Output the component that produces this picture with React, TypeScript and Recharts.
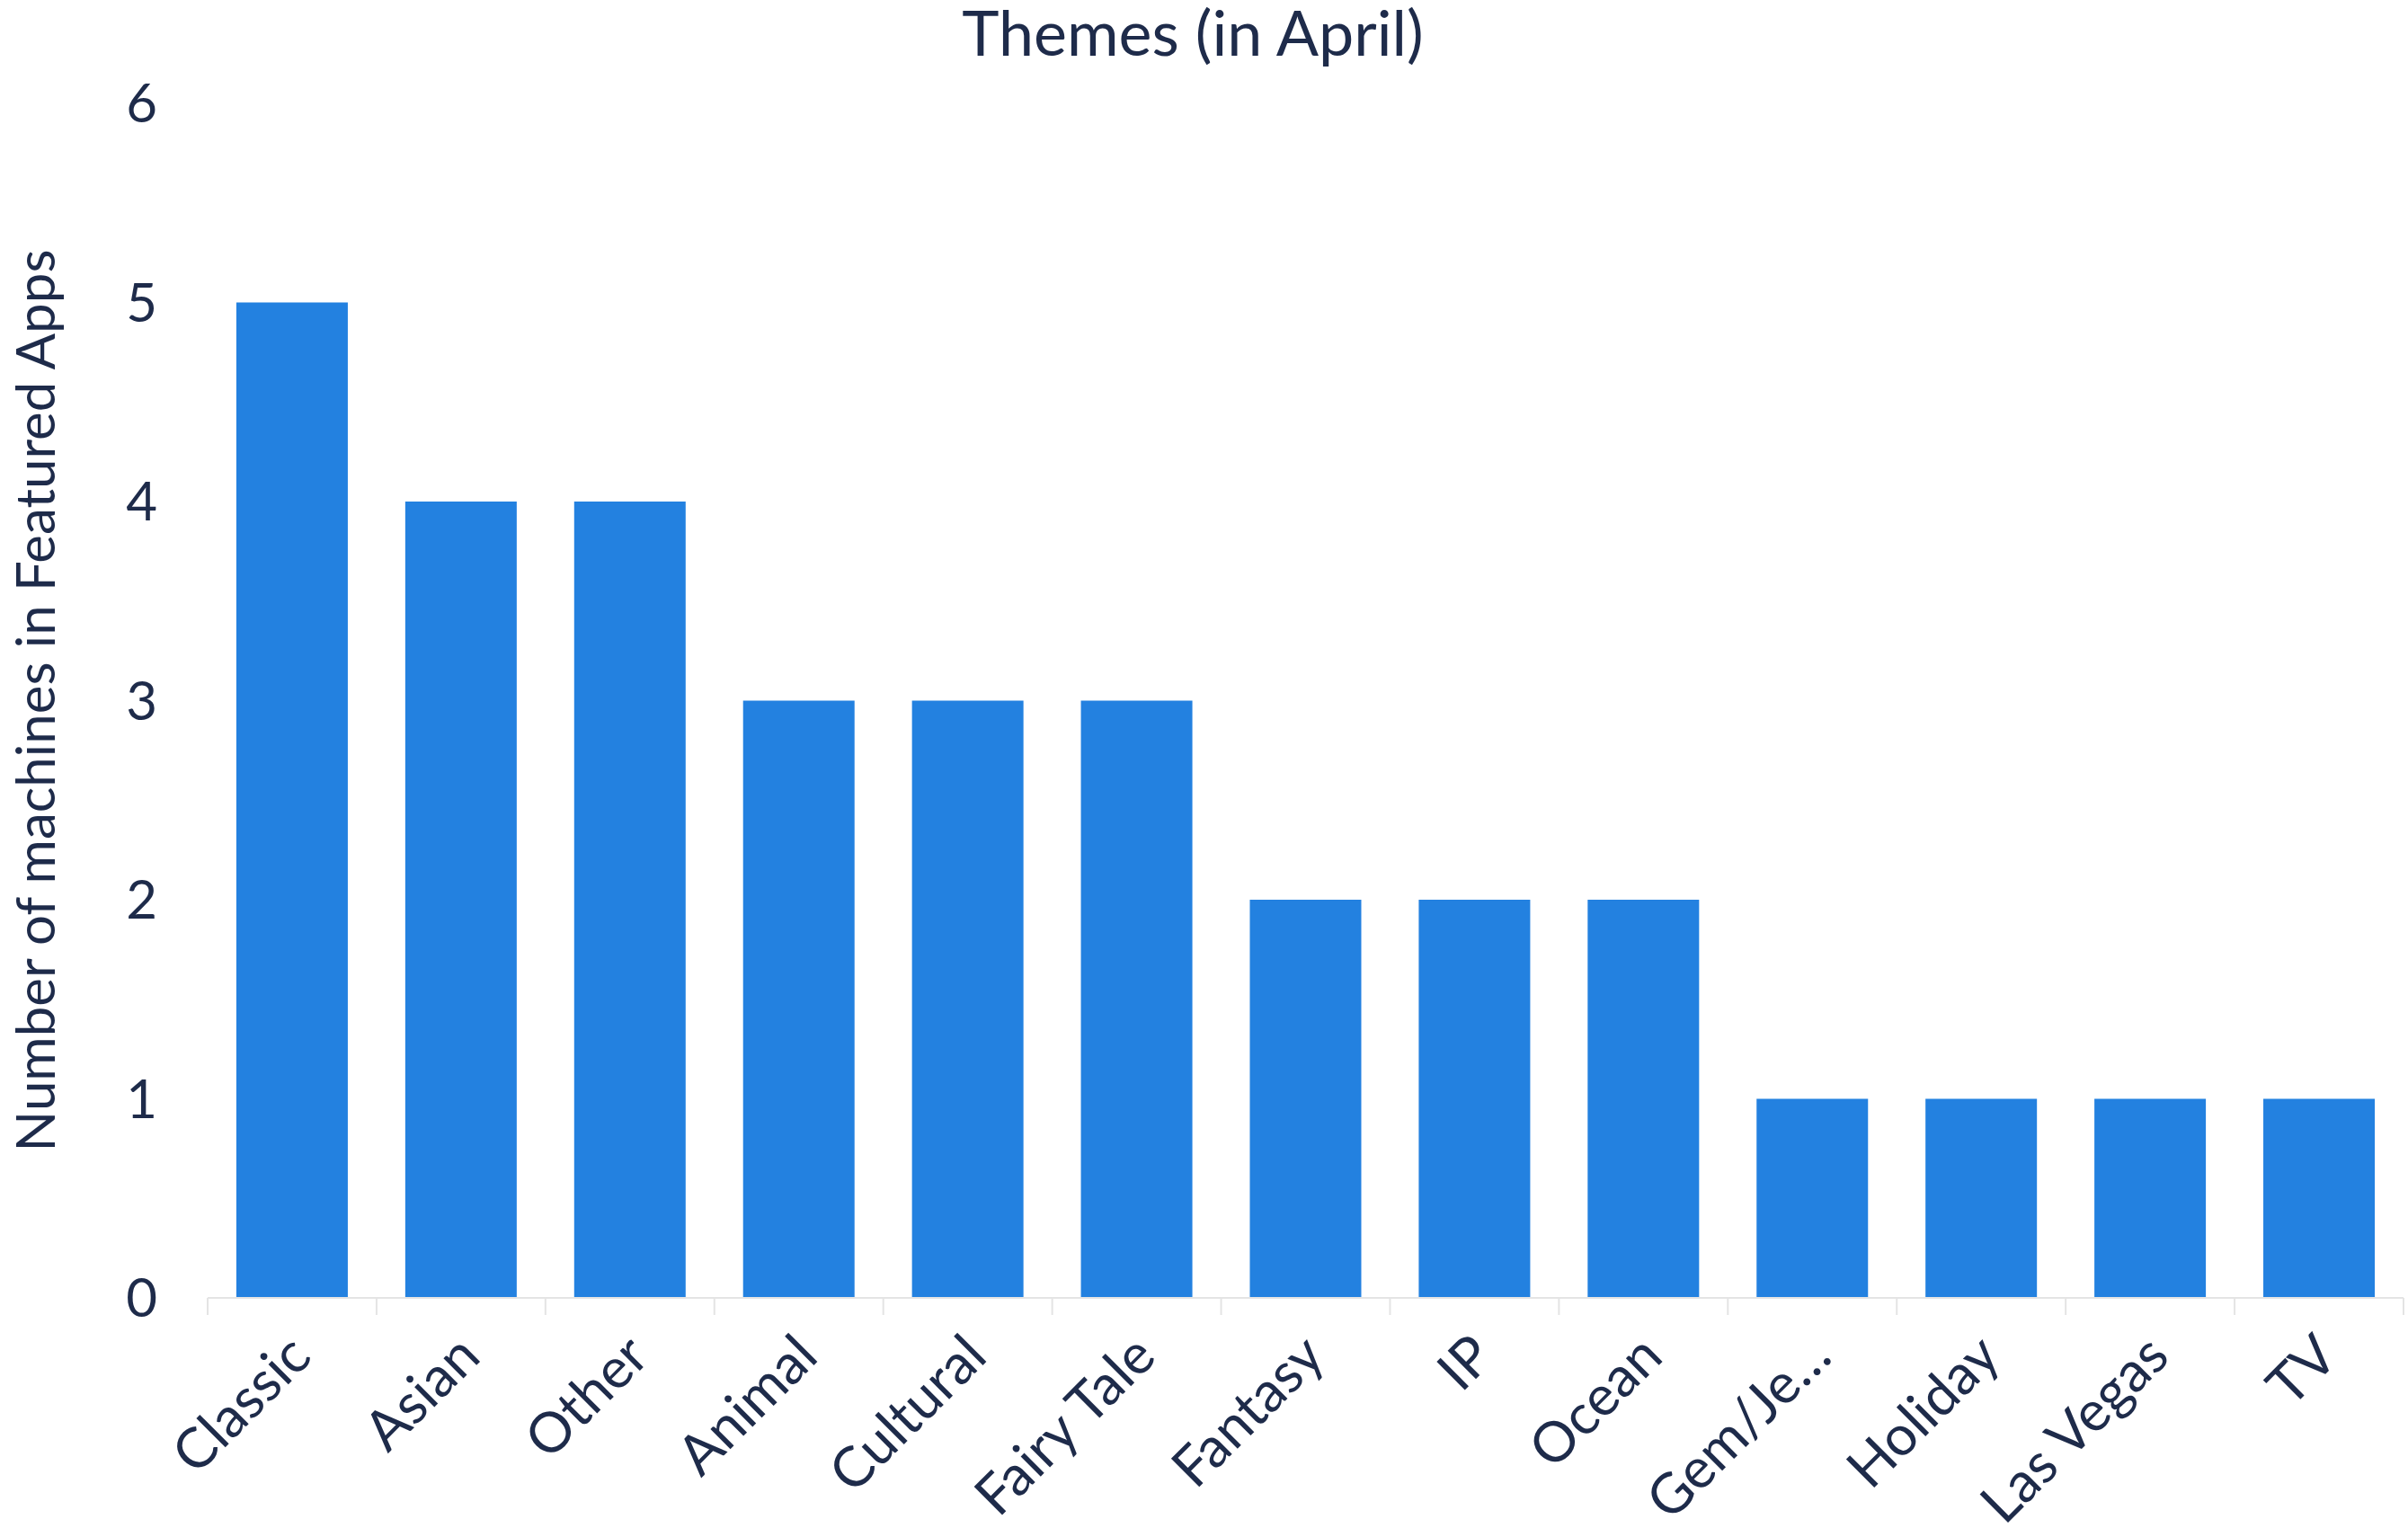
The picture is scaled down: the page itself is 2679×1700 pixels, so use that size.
import React from 'react';
import { BarChart, Bar, XAxis, YAxis } from 'recharts';

// テーマ別の台数（4月）
const themes = [
  'Classic',
  'Asian',
  'Other',
  'Animal',
  'Cultural',
  'Fairy Tale',
  'Fantasy',
  'IP',
  'Ocean',
  'Gem/Je…',
  'Holiday',
  'Las Vegas',
  'TV',
];
const machineCounts = [5, 4, 4, 3, 3, 3, 2, 2, 2, 1, 1, 1, 1];
const yTicks = [0, 1, 2, 3, 4, 5, 6];

const data = themes.map((theme, i) => ({ theme, count: machineCounts[i] }));

const TEXT = '#1E2B4A';
const GRID = '#E4E4E4';
const BAR = '#2381E0';
const FONT = 'Lato, "Open Sans", sans-serif';

const W = 2679;
const H = 1700;

const XTick = (props: any) => {
  const { x, y, payload, index, visibleTicksCount } = props;
  const half = payload?.offset ?? 94;
  const tx = x + 24;
  const ty = y + 68;
  return (
    <g>
      <line x1={x - half} y1={y} x2={x - half} y2={y + 19} stroke={GRID} strokeWidth={2} />
      {index === visibleTicksCount - 1 && (
        <line x1={x + half} y1={y} x2={x + half} y2={y + 19} stroke={GRID} strokeWidth={2} />
      )}
      <text
        x={tx}
        y={ty}
        textAnchor="end"
        transform={`rotate(-45, ${tx}, ${ty})`}
        fill={TEXT}
        fontSize={62}
        fontFamily={FONT}
      >
        {payload.value}
      </text>
    </g>
  );
};

const YLabel = (props: any) => {
  const vb = props.viewBox || {};
  const cx = 38;
  const cy = (vb.y ?? 115) + (vb.height ?? 1329) / 2;
  return (
    <text
      x={cx}
      y={cy}
      textAnchor="middle"
      dominantBaseline="central"
      transform={`rotate(-90, ${cx}, ${cy})`}
      fill={TEXT}
      fontSize={60}
      fontFamily={FONT}
    >
      Number of machines in Featured Apps
    </text>
  );
};

export default function App() {
  return (
    <div style={{ position: 'absolute', left: 0, top: 0, width: W, height: H, background: '#fff' }}>
      <BarChart
        width={W}
        height={H}
        data={data}
        margin={{ top: 115, right: 5, left: 0, bottom: 0 }}
        barCategoryGap="17%"
      >
        <XAxis
          dataKey="theme"
          interval={0}
          height={256}
          tickLine={false}
          tickSize={0}
          tickMargin={0}
          axisLine={{ stroke: GRID, strokeWidth: 2 }}
          tick={<XTick />}
        />
        <YAxis
          width={231}
          domain={[0, 6]}
          ticks={yTicks}
          axisLine={false}
          tickLine={false}
          tickSize={0}
          tickMargin={56}
          tick={{ fill: TEXT, fontSize: 60, fontFamily: FONT }}
          label={<YLabel />}
        />
        <Bar dataKey="count" fill={BAR} isAnimationActive={false} />
      </BarChart>
      <svg
        width={W}
        height={200}
        style={{ position: 'absolute', left: 0, top: 0, pointerEvents: 'none', overflow: 'visible' }}
      >
        <text x={1327} y={62} textAnchor="middle" fill={TEXT} fontSize={70} fontFamily={FONT}>
          Themes (in April)
        </text>
      </svg>
    </div>
  );
}
